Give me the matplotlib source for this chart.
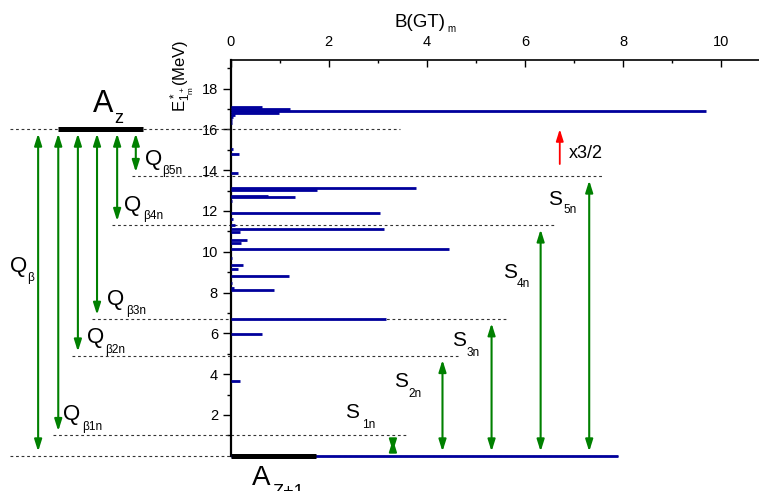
import matplotlib.pyplot as plt

plt.rcParams['font.family'] = ['Liberation Sans', 'DejaVu Sans']
plt.rcParams['mathtext.fontset'] = 'custom'
plt.rcParams['mathtext.rm'] = 'Liberation Sans'
plt.rcParams['mathtext.it'] = 'Liberation Sans'

# B(GT) strength at excitation energy in the daughter (MeV)
energies = [18.4, 17.10, 17.00, 16.90, 16.82, 16.72, 16.60, 16.45, 16.30,
            15.05, 14.79, 13.87, 13.55, 13.14, 13.02, 12.75, 12.66, 12.50,
            11.91, 11.59, 11.29, 11.13, 10.98, 10.57, 10.44, 10.15, 9.68,
            9.35, 9.14, 8.82, 8.47, 8.24, 8.12, 6.70, 5.97, 3.68]
bgt = [0.02, 0.64, 1.22, 9.70, 0.99, 0.10, 0.06, 0.04, 0.03,
       0.06, 0.17, 0.15, 0.02, 3.79, 1.76, 0.76, 1.31, 0.03,
       3.05, 0.06, 0.10, 3.13, 0.20, 0.33, 0.21, 4.46, 0.03,
       0.26, 0.16, 1.20, 0.03, 0.07, 0.89, 3.16, 0.65, 0.19]
baseline_end = 7.9

q_beta = 16.0
# neutron separation energies S1n..S5n
s_xn = [1.0, 4.9, 6.7, 11.3, 13.7]
s_names = ['1n', '2n', '3n', '4n', '5n']
qb_names = ['\u03b2', '\u03b21n', '\u03b22n', '\u03b23n', '\u03b24n', '\u03b25n']
qb_lower = [0.0] + s_xn

W, H = 759, 491
fig = plt.figure(figsize=(W / 100, H / 100), dpi=100)
ax = fig.add_axes([230.5 / W, 35.3 / H, 528.5 / W, 395.7 / H])
ax.set_xlim(0, 10.77)
ax.set_ylim(0, 19.4)

for s in ['right', 'bottom']:
    ax.spines[s].set_visible(False)
ax.spines['left'].set_linewidth(1.6)
ax.spines['top'].set_linewidth(1.2)

ax.xaxis.tick_top()
ax.set_xticks(range(0, 11, 2))
ax.set_xticks(range(1, 11, 2), minor=True)
ax.set_yticks(range(2, 19, 2))
ax.set_yticks(range(1, 20, 2), minor=True)
ax.tick_params(axis='x', which='both', direction='in', bottom=False, top=True,
               labelbottom=False, labeltop=True, labelsize=10.5, pad=8)
ax.tick_params(axis='x', which='major', length=5, width=1)
ax.tick_params(axis='x', which='minor', length=2.5, width=1)
ax.tick_params(axis='y', which='both', direction='out', labelsize=10.5, pad=3)
ax.tick_params(axis='y', which='major', length=6, width=1)
ax.tick_params(axis='y', which='minor', length=3, width=1)

blue = '#00009c'
green = '#008000'
dash = (0, (2.5, 2.5))

# dotted level lines (x extents are layout only)
ax.hlines(q_beta, -4.49, 3.45, colors='#333333', linestyles=dash, lw=0.8, clip_on=False)
ax.hlines(0, -4.49, baseline_end, colors='#333333', linestyles=dash, lw=0.8, clip_on=False)
line_starts = [-3.62, -3.23, -2.82, -2.41, -2.01]
line_ends = [3.61, 4.63, 5.63, 6.61, 7.61]
for lvl, x0, x1 in zip(s_xn, line_starts, line_ends):
    ax.hlines(lvl, x0, x1, colors='#333333', linestyles=dash, lw=0.8, clip_on=False)

# strength distribution
ax.hlines(energies, 0, bgt, colors=blue, lw=2.0, zorder=3)
ax.hlines(0, 0, baseline_end, colors=blue, lw=2.0, zorder=3, clip_on=False)

# ground states of parent and daughter
ax.hlines(q_beta, -3.52, -1.78, colors='black', lw=3.6, clip_on=False, zorder=4)
ax.hlines(0, 0, 1.75, colors='black', lw=3.6, clip_on=False, zorder=4)

astyle = '<|-|>,head_length=0.7,head_width=0.22'
qb_x = [-3.92, -3.51, -3.11, -2.72, -2.31, -1.93]
for x, lo in zip(qb_x, qb_lower):
    ax.annotate('', xy=(x, q_beta), xytext=(x, lo), annotation_clip=False,
                arrowprops=dict(arrowstyle=astyle, mutation_scale=10, color=green,
                                lw=1.5, shrinkA=3, shrinkB=3))
s_x = [3.31, 4.32, 5.32, 6.32, 7.31]
for x, hi in zip(s_x, s_xn):
    ax.annotate('', xy=(x, hi), xytext=(x, 0), annotation_clip=False,
                arrowprops=dict(arrowstyle=astyle, mutation_scale=10, color=green,
                                lw=1.5, shrinkA=3, shrinkB=3))
ax.annotate('', xy=(6.71, 16.01), xytext=(6.71, 14.3), annotation_clip=False,
            arrowprops=dict(arrowstyle='-|>,head_length=0.7,head_width=0.22',
                            mutation_scale=10, color='red', lw=1.3,
                            shrinkA=0, shrinkB=0))


def ptext(px, py, s, size, **kw):
    return fig.text(px / W, 1 - py / H, s, fontsize=size, va='baseline', **kw)


# axis titles
ptext(395, 27, 'B(GT)', 13.5)
ptext(447, 32, 'm', 7)
fig.text(182 / W, 1 - 40 / H, r'E$^*_{1^+_m}$(MeV)', rotation=90,
         ha='center', va='top', fontsize=12)

# level labels
ptext(93, 112, 'A', 22)
ptext(114, 123, 'z', 13)
ptext(252, 485, 'A', 20)
ptext(272, 497, 'Z+1', 13)

q_pos = [(10, 272, 27, 281), (63, 420, 82, 430), (87, 343, 105, 353),
         (107, 305, 126, 314), (124, 211, 143, 219), (145, 165, 162, 174)]
for (mx, my, sx, sy), name in zip(q_pos, qb_names):
    ptext(mx, my, 'Q', 16)
    ptext(sx, sy, name, 8.5)

s_pos = [(345, 418, 362, 428), (394, 387, 408, 397), (452, 346, 467, 356),
         (503, 278, 517, 287), (548, 205, 563, 213)]
for (mx, my, sx, sy), name in zip(s_pos, s_names):
    ptext(mx, my, 'S', 15)
    ptext(sx, sy, name, 8.5)

ptext(569, 158, 'x3/2', 13)

fig.savefig('out.png', dpi=100)
